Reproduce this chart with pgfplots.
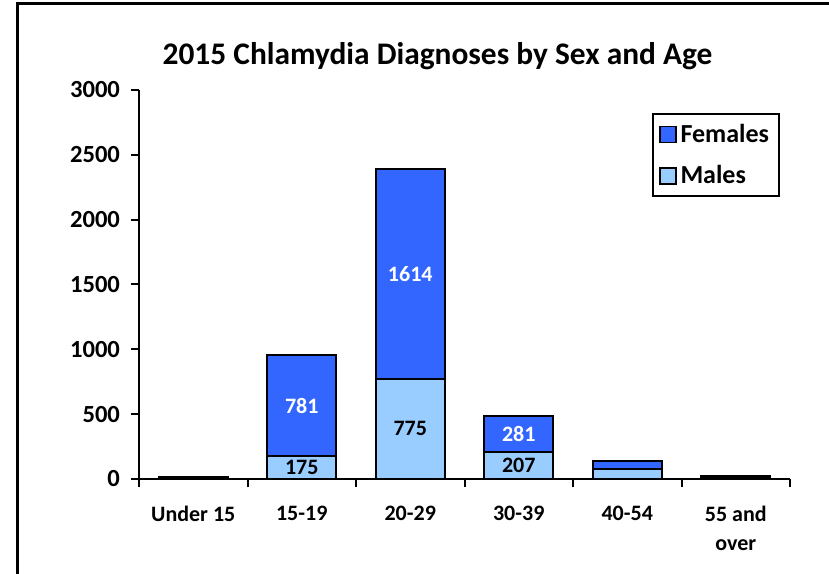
\documentclass[border=0pt]{standalone}
\usepackage{fontspec}
\setmainfont{Carlito}
\usepackage{pgfplots}
\pgfplotsset{compat=1.18}
\definecolor{fem}{RGB}{51,102,255}
\definecolor{mal}{RGB}{153,204,255}

\pgfplotsset{
  chlam/.style={
    at={(69.5pt,47pt)}, anchor=south west,
    scale only axis, width=325.5pt, height=194.5pt,
    xmin=-0.5, xmax=5.5, ymin=0, ymax=3000,
    enlargelimits=false,
  }
}

\begin{document}
\begin{tikzpicture}
\useasboundingbox (0pt,0pt) rectangle (414.5pt,286.5pt);
\draw[line width=1.5pt] (8.5pt,-5pt) -- (8.5pt,284.5pt) -- (420pt,284.5pt);
\node[font=\fontsize{15.7}{18}\selectfont\bfseries] at (218.75pt,258.5pt) {2015 Chlamydia Diagnoses by Sex and Age};

\begin{axis}[
  chlam,
  ybar stacked, bar width=34.5pt,
  axis x line*=bottom, axis y line*=left,
  axis line style={line width=1.2pt},
  ytick={0,500,...,3000},
  xtick={0,...,5},
  xticklabels={Under 15,15-19,20-29,30-39,40-54,55 and\\over},
  minor xtick={-0.5,0.5,...,5.5},
  tick align=outside,
  major tick length=4pt, minor tick length=4pt,
  tick style={black, line width=1pt},
  major x tick style={draw=none},
  xticklabel style={align=center, font=\fontsize{11}{14.5}\selectfont\bfseries, yshift=-6pt},
  yticklabel style={font=\fontsize{12.3}{14}\selectfont\bfseries, xshift=-2pt},
  /pgf/number format/assume math mode=true,
  /pgf/number format/set thousands separator={},
  reverse legend,
  legend cell align=left,
  legend style={at={(0.9846,0.941)}, anchor=north east, draw=black, line width=1pt,
    font=\fontsize{13}{15}\selectfont\bfseries, row sep=6pt, inner sep=3pt},
  legend image code/.code={\draw[#1, line width=0.8pt] (0pt,-4pt) rectangle (8pt,4pt);},
]
\addplot[fill=mal, draw=black, line width=1pt] coordinates {(0,2) (1,175) (2,775) (3,207) (4,80) (5,12)};
\addlegendentry{Males}
\addplot[fill=fem, draw=black, line width=1pt] coordinates {(0,12) (1,781) (2,1614) (3,281) (4,55) (5,12)};
\addlegendentry{Females}
\end{axis}

\begin{axis}[chlam, hide axis]
\addplot[draw=none, nodes near coords, point meta=explicit symbolic,
  nodes near coords align=center,
  every node near coord/.append style={font=\fontsize{11}{13}\selectfont\bfseries, text=black}]
  table[meta=lab] {
x y lab
1 87.5 175
2 387.5 775
3 103.5 207
};
\addplot[draw=none, nodes near coords, point meta=explicit symbolic,
  nodes near coords align=center,
  every node near coord/.append style={font=\fontsize{11}{13}\selectfont\bfseries, text=white}]
  table[meta=lab] {
x y lab
1 565.5 781
2 1582 1614
3 347.5 281
};
\end{axis}
\end{tikzpicture}
\end{document}
